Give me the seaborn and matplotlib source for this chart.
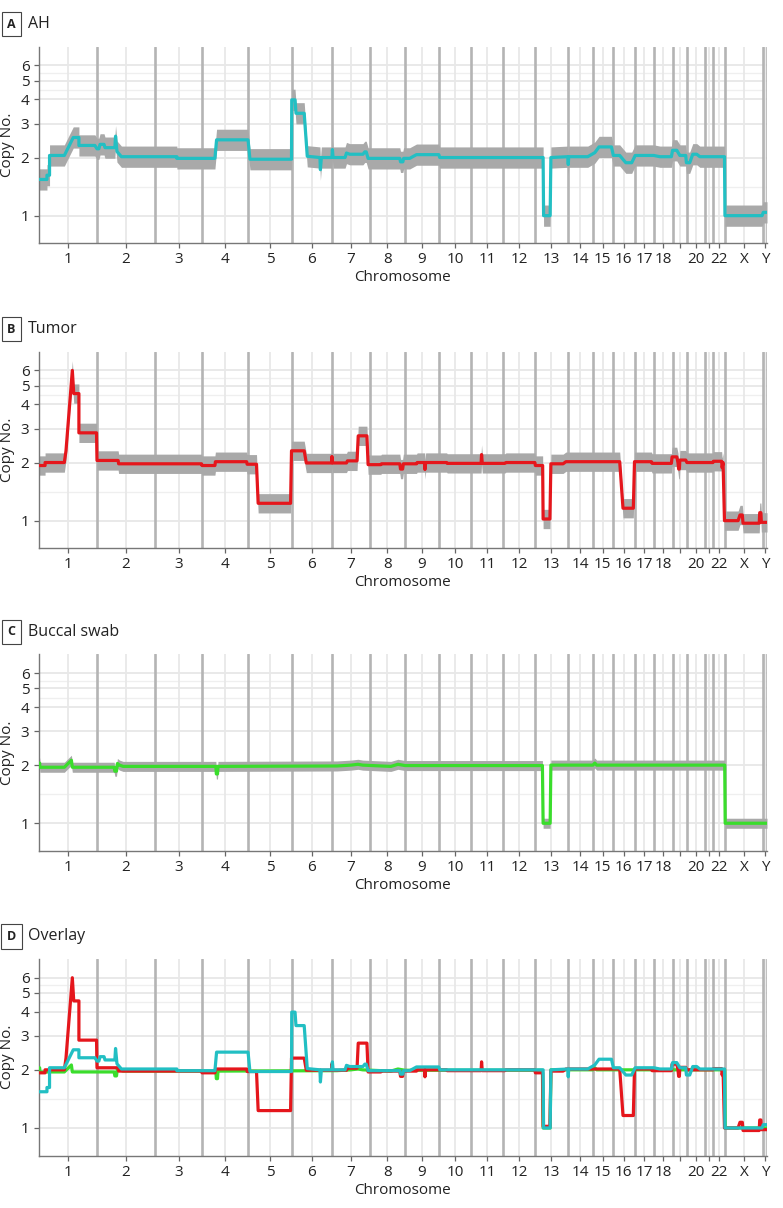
import numpy as np
import pandas as pd
import matplotlib
matplotlib.use("Agg")
import matplotlib.pyplot as plt
import seaborn as sns

# chromosome sizes (Mb, as laid out on the genome axis)
chrom_names = [str(i) for i in range(1, 23)] + ["X", "Y"]
chrom_len = [249, 247, 200, 196, 187, 170, 162, 149, 145, 136, 136, 136,
             139, 108, 84, 95, 81, 80, 60, 78, 35, 50, 159, 19]
tick_labels = [str(i) for i in range(1, 19)] + ["", "20", "", "22", "X", "Y"]

# segmented copy number, genome position (Mb) / copy no.
ah_pos = [0, 36, 36, 47, 47, 110, 148, 172, 172, 240, 249, 257, 262, 279, 283, 325,
          328, 334, 353, 589, 589, 751, 758, 892, 900, 1077, 1078, 1092, 1096, 1131,
          1144, 1198, 1200, 1204, 1249, 1251, 1254, 1305, 1311, 1325, 1381, 1389, 1395,
          1403, 1538, 1541, 1551, 1554, 1580, 1609, 1704, 1708, 2148, 2150, 2178, 2181,
          2253, 2255, 2257, 2338, 2368, 2386, 2439, 2447, 2474, 2500, 2525, 2540, 2619,
          2645, 2694, 2699, 2717, 2730, 2755, 2758, 2772, 2785, 2802, 2815, 2920, 2922,
          3080, 3085, 3101]
ah_cn = [1.54, 1.54, 1.62, 1.62, 2.05, 2.05, 2.54, 2.54, 2.31, 2.31, 2.22, 2.22, 2.34, 2.34,
         2.25, 2.25, 2.58, 2.15, 2.02, 2.02, 1.98, 1.98, 2.47, 2.47, 1.96, 1.96, 3.98, 3.98,
         3.39, 3.39, 2.03, 2.0, 1.73, 2.0, 2.0, 2.2, 2.0, 2.0, 2.11, 2.08, 2.08, 2.14, 2.14,
         1.98, 1.98, 1.9, 1.9, 1.98, 1.98, 2.07, 2.07, 2.0, 2.0, 1.0, 1.0, 2.0,
         2.02, 1.84, 2.02, 2.02, 2.12, 2.27, 2.27, 2.05, 2.05, 1.88, 1.88, 2.05, 2.05,
         2.02, 2.02, 2.18, 2.18, 2.05, 2.05, 1.88, 1.88, 2.08, 2.08, 2.02, 2.02, 1.0,
         1.0, 1.04, 1.04]

tumor_pos = [0, 28, 28, 110, 117, 144, 150, 172, 172, 247, 249, 339, 341, 694, 696, 751,
             753, 886, 888, 928, 935, 1073, 1077, 1131, 1140, 1248, 1249, 1252, 1311, 1315,
             1356, 1361, 1398, 1403, 1457, 1460, 1538, 1541, 1550, 1553, 1609, 1612, 1644,
             1645, 1648, 1737, 1740, 1884, 1886, 1889, 1985, 1990, 2113, 2115, 2146, 2148,
             2177, 2181, 2233, 2245, 2474, 2488, 2532, 2537, 2609, 2612, 2694, 2697, 2717,
             2722, 2725, 2728, 2730, 2755, 2760, 2871, 2873, 2908, 2910, 2914, 2920, 2978,
             2986, 2996, 2999, 3068, 3070, 3075, 3077, 3101]
tumor_cn = [1.93, 1.93, 2.0, 2.0, 2.3, 6.0, 4.55, 4.55, 2.85, 2.85, 2.05, 2.05, 1.97, 1.97,
            1.93, 1.93, 2.02, 2.02, 1.96, 1.96, 1.23, 1.23, 2.3, 2.3, 1.99, 1.99, 2.15, 1.99,
            1.99, 2.04, 2.04, 2.75, 2.75, 1.95, 1.95, 1.97, 1.97, 1.85, 1.85, 1.97, 1.97, 2.0,
            2.0, 1.84, 2.0, 2.0, 1.98, 1.98, 2.2, 1.98, 1.98, 2.0, 2.0, 1.93, 1.93, 1.02,
            1.02, 1.97, 1.97, 2.02, 2.02, 1.16, 1.16, 2.02, 2.02, 1.98, 1.98, 2.14, 2.14,
            2.0, 1.85, 1.85, 2.06, 2.06, 2.0, 2.0, 2.03, 2.03, 1.88, 2.0, 1.0, 1.0,
            1.07, 1.07, 0.97, 0.97, 1.1, 1.1, 0.98, 0.98]

buccal_pos = [0, 5, 6, 110, 140, 144, 322, 325, 332, 336, 345, 360, 755, 757, 762, 764,
              1270, 1330, 1360, 1380, 1500, 1530, 1560, 2145, 2148, 2178, 2181, 2360, 2368,
              2376, 2921, 2923, 3101]
buccal_cn = [2.05, 2.05, 1.95, 1.95, 2.12, 1.95, 1.95, 1.86, 1.86, 2.04, 2.0, 1.97, 1.97,
             1.8, 1.8, 1.97, 1.98, 2.0, 2.02, 2.0, 1.97, 2.02, 1.99, 1.99, 1.0, 1.0, 2.0, 2.0,
             2.05, 2.0, 2.0, 1.0, 1.0]

# spread of the bin-level points around each segmentation (log10 units)
spread = {"AH": 0.055, "Tumor": 0.05, "Buccal swab": 0.026}

colors = {"AH": "#22BFC3", "Tumor": "#E5161C", "Buccal swab": "#3ADD2C"}

samples = {
    "AH": pd.DataFrame({"pos": ah_pos, "cn": ah_cn}),
    "Tumor": pd.DataFrame({"pos": tumor_pos, "cn": tumor_cn}),
    "Buccal swab": pd.DataFrame({"pos": buccal_pos, "cn": buccal_cn}),
}

sns.set_theme(style="white")
plt.rcParams["font.family"] = ["Open Sans", "DejaVu Sans"]

W, H = 783, 1208
fig = plt.figure(figsize=(W / 100, H / 100), dpi=100)

bounds = np.cumsum(chrom_len)
starts = bounds - np.array(chrom_len)
centers = starts + np.array(chrom_len) / 2

panels = [("A", "AH", ["AH"], 46.7),
          ("B", "Tumor", ["Tumor"], 351.7),
          ("C", "Buccal swab", ["Buccal swab"], 654.3),
          ("D", "Overlay", ["Buccal swab", "Tumor", "AH"], 959)]

left_px, right_px, h_px = 38.5, 767, 196.5
for letter, title, keys, top_px in panels:
    ax = fig.add_axes([left_px / W, 1 - (top_px + h_px) / H,
                       (right_px - left_px) / W, h_px / H])
    ax.set_yscale("log")
    ax.set_ylim(0.72, 7.5)
    ax.set_xlim(0, bounds[-1])

    # grid
    for v in [1, 2, 3, 4, 5, 6]:
        ax.axhline(v, color="#e3e3e3", lw=1.1, zorder=0)
    for v in [np.sqrt(2), np.sqrt(20), np.sqrt(30)]:
        ax.axhline(v, color="#efefef", lw=0.9, zorder=0)
    for c in centers:
        ax.axvline(c, color="#e8e8e8", lw=1.3, zorder=0)
    for b in bounds:
        ax.axvline(b, color="#b4b4b4", lw=1.9, zorder=1)

    single = len(keys) == 1
    for k in keys:
        df = samples[k]
        if single:
            s = 10 ** spread[k]
            ax.fill_between(df["pos"], df["cn"] / s, df["cn"] * s,
                            color="#a9a9a9", lw=0, zorder=2)
        sns.lineplot(data=df, x="pos", y="cn", sort=False, estimator=None,
                     color=colors[k], lw=2.3, ax=ax, zorder=3)

    ax.set_yticks([1, 2, 3, 4, 5, 6])
    ax.set_yticklabels(["1", "2", "3", "4", "5", "6"])
    ax.yaxis.set_minor_locator(matplotlib.ticker.NullLocator())
    ax.set_xticks(centers)
    ax.set_xticklabels(tick_labels)
    ax.tick_params(axis="both", which="major", length=3.5, width=0.9,
                   color="#666666", labelsize=11, labelcolor="#222222", pad=3)
    ax.tick_params(axis="x", bottom=True)
    ax.tick_params(axis="y", left=True)
    for side in ["top", "right"]:
        ax.spines[side].set_visible(False)
    for side in ["left", "bottom"]:
        ax.spines[side].set_color("#777777")
        ax.spines[side].set_linewidth(1.0)

    ax.set_ylabel("Copy No.", fontsize=11, color="#222222")
    ax.yaxis.set_label_coords(-23 / (right_px - left_px), 0.5)
    ax.set_xlabel("Chromosome", fontsize=11, color="#222222")
    ax.xaxis.set_label_coords(0.5, -27 / h_px)

    ly = 1 - (top_px - 22.5) / H
    fig.text(11.5 / W, ly, letter, fontsize=9, fontweight="bold", color="#222222",
             ha="center", va="center",
             bbox=dict(boxstyle="square,pad=0.45", fc="white", ec="#444444", lw=0.8))
    fig.text(28 / W, ly, title, fontsize=11.5, color="#222222", ha="left", va="center")

fig.savefig("out.png", dpi=100)
